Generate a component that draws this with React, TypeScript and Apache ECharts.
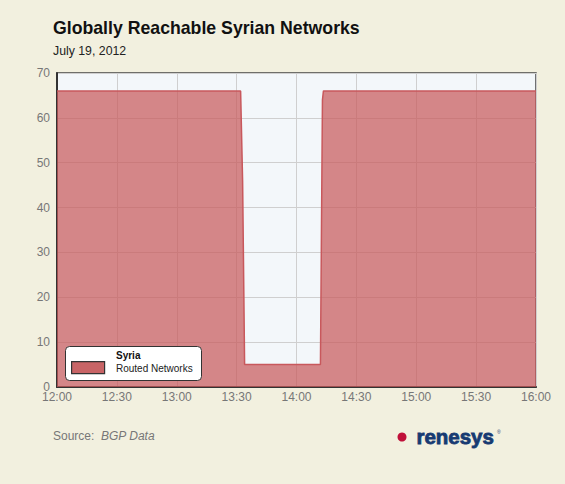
import React, { useEffect, useRef } from "react";
import * as echarts from "echarts";

const minutesSinceNoon: number[] = [0, 92, 93, 94, 132, 133, 133.5, 240];
const routedNetworks: number[] = [66, 66, 46, 5, 5, 64, 66, 66];
const xTicks: string[] = ["12:00", "12:30", "13:00", "13:30", "14:00", "14:30", "15:00", "15:30", "16:00"];
const seriesName = "Syria";
const seriesSub = "Routed Networks";

export default function App() {
  const ref = useRef<HTMLDivElement>(null);
  useEffect(() => {
    if (!ref.current) return;
    const chart = echarts.init(ref.current, undefined, { renderer: "svg" });
    const data = minutesSinceNoon.map((m, i) => [m, routedNetworks[i]]);
    chart.setOption({
      animation: false,
      backgroundColor: "#f2f0df",
      textStyle: { fontFamily: "Liberation Sans, Arial, sans-serif" },
      title: {
        text: "Globally Reachable Syrian Networks",
        subtext: "July 19, 2012",
        left: 48,
        top: 14,
        itemGap: 8,
        textStyle: { fontSize: 17.7, fontWeight: "bold", color: "#111" },
        subtextStyle: { fontSize: 12.3, color: "#222" },
      },
      grid: {
        left: 57,
        right: 29,
        top: 73,
        bottom: 97,
        show: true,
        backgroundColor: "#f3f7fa",
        borderColor: "#444",
        borderWidth: 1.5,
      },
      xAxis: {
        type: "value",
        min: 0,
        max: 240,
        interval: 30,
        axisLine: { show: true, lineStyle: { color: "#333", width: 2 } },
        axisTick: { show: false },
        splitLine: { show: true, lineStyle: { color: "#cfcfcf", width: 1 } },
        axisLabel: {
          color: "#777",
          fontSize: 12,
          margin: 4,
          formatter: (v: number) => xTicks[Math.round(v / 30)] ?? "",
        },
      },
      yAxis: {
        type: "value",
        min: 0,
        max: 70,
        interval: 10,
        axisLine: { show: true, lineStyle: { color: "#333", width: 2 } },
        axisTick: { show: false },
        splitLine: { show: true, lineStyle: { color: "#cfcfcf", width: 1 } },
        axisLabel: { color: "#777", fontSize: 12, margin: 7 },
      },
      series: [
        {
          name: seriesName,
          type: "line",
          data,
          showSymbol: false,
          symbol: "none",
          lineStyle: { color: "#c8585c", width: 1.5 },
          areaStyle: { color: "rgba(200,90,92,0.72)", opacity: 1 },
          z: 1,
        },
      ],
      graphic: [
        {
          type: "rect",
          left: 65,
          top: 346,
          z: 100,
          shape: { width: 136, height: 34, r: 4 },
          style: { fill: "#ffffff", stroke: "#333", lineWidth: 1 },
        },
        {
          type: "rect",
          left: 71,
          top: 361,
          z: 101,
          shape: { width: 33, height: 12 },
          style: { fill: "#c86466", stroke: "#333", lineWidth: 1.2 },
        },
        {
          type: "text",
          left: 116,
          top: 350,
          z: 101,
          style: { text: seriesName, fontSize: 10, fontWeight: "bold", fill: "#111", fontFamily: "Liberation Sans, Arial, sans-serif" },
        },
        {
          type: "text",
          left: 116,
          top: 363,
          z: 101,
          style: { text: seriesSub, fontSize: 10, fill: "#222", fontFamily: "Liberation Sans, Arial, sans-serif" },
        },
        {
          type: "text",
          left: 53,
          top: 430,
          style: {
            text: "{a|Source:  }{b|BGP Data}",
            rich: {
              a: { fontSize: 12, fill: "#777", fontFamily: "Liberation Sans, Arial, sans-serif" },
              b: { fontSize: 12, fill: "#777", fontStyle: "italic", fontFamily: "Liberation Sans, Arial, sans-serif" },
            },
          },
        },
        {
          type: "circle",
          shape: { cx: 402, cy: 437, r: 4.5 },
          style: { fill: "#c0103a" },
        },
        {
          type: "text",
          left: 416,
          top: 426,
          style: { text: "renesys", fontSize: 20.5, fontWeight: "bold", fill: "#173a72", stroke: "#173a72", lineWidth: 0.8, fontFamily: "Liberation Sans, Arial, sans-serif" },
        },
        {
          type: "text",
          left: 497,
          top: 429,
          style: { text: "®", fontSize: 5, fill: "#173a72", fontFamily: "Liberation Sans, Arial, sans-serif" },
        },
      ],
    });
    return () => chart.dispose();
  }, []);
  return (
    <div
      ref={ref}
      style={{ width: 565, height: 484, position: "fixed", left: 0, top: 0 }}
    />
  );
}
